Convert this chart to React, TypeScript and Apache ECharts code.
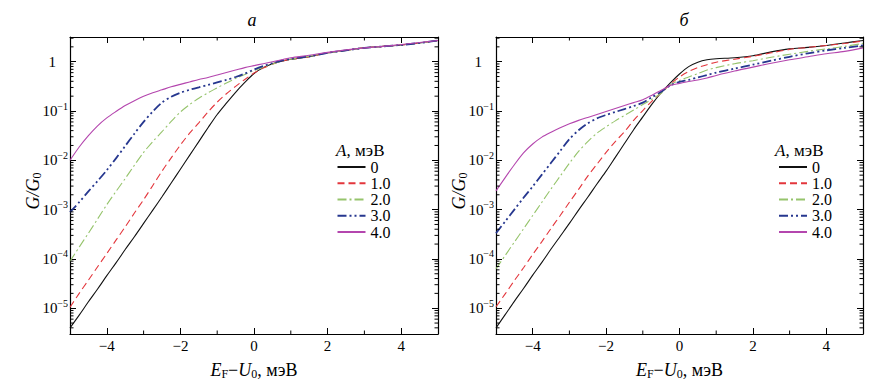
import React, { useEffect, useRef } from 'react';
import * as echarts from 'echarts';

// Energy E_F - U_0 (meV) sampling grid
const X = [-5, -4.75, -4.5, -4.25, -4, -3.75, -3.5, -3.25, -3, -2.75, -2.5, -2.25, -2, -1.75, -1.5, -1.25, -1, -0.75, -0.5, -0.25, 0, 0.25, 0.5, 0.75, 1, 1.5, 2, 2.5, 3, 3.5, 4, 4.5, 5];

// Panel "а": log10(G/G0), one array per A (meV)
const a_A0 = [-5.40, -5.14, -4.87, -4.61, -4.34, -4.08, -3.81, -3.55, -3.28, -3.01, -2.74, -2.46, -2.18, -1.90, -1.62, -1.34, -1.07, -0.84, -0.62, -0.42, -0.24, -0.12, -0.04, 0.01, 0.05, 0.10, 0.18, 0.23, 0.28, 0.31, 0.34, 0.38, 0.43];
const a_A1 = [-4.98, -4.70, -4.43, -4.16, -3.89, -3.62, -3.35, -3.07, -2.80, -2.51, -2.22, -1.95, -1.69, -1.45, -1.24, -1.02, -0.82, -0.65, -0.50, -0.36, -0.23, -0.13, -0.05, 0.01, 0.05, 0.10, 0.18, 0.23, 0.28, 0.31, 0.34, 0.38, 0.43];
const a_A2 = [-4.05, -3.76, -3.48, -3.19, -2.90, -2.63, -2.37, -2.10, -1.84, -1.62, -1.42, -1.21, -1.02, -0.87, -0.74, -0.63, -0.53, -0.43, -0.34, -0.26, -0.18, -0.11, -0.05, 0.01, 0.05, 0.11, 0.18, 0.23, 0.28, 0.31, 0.34, 0.38, 0.43];
const a_A3 = [-3.05, -2.85, -2.63, -2.42, -2.20, -1.96, -1.71, -1.46, -1.22, -1.01, -0.83, -0.71, -0.63, -0.57, -0.52, -0.47, -0.42, -0.37, -0.31, -0.24, -0.16, -0.09, -0.03, 0.02, 0.06, 0.11, 0.18, 0.23, 0.28, 0.31, 0.34, 0.38, 0.43];
const a_A4 = [-2.00, -1.73, -1.50, -1.30, -1.14, -1.01, -0.89, -0.79, -0.70, -0.63, -0.57, -0.51, -0.46, -0.41, -0.36, -0.32, -0.27, -0.22, -0.17, -0.12, -0.08, -0.04, 0.00, 0.04, 0.08, 0.13, 0.19, 0.24, 0.28, 0.31, 0.35, 0.39, 0.43];

// Panel "б": log10(G/G0)
const b_A0 = [-5.40, -5.13, -4.86, -4.60, -4.33, -4.07, -3.80, -3.54, -3.28, -3.01, -2.75, -2.48, -2.22, -1.94, -1.66, -1.38, -1.12, -0.86, -0.63, -0.43, -0.25, -0.10, -0.01, 0.04, 0.06, 0.08, 0.12, 0.20, 0.26, 0.29, 0.33, 0.38, 0.43];
const b_A1 = [-4.97, -4.71, -4.44, -4.18, -3.91, -3.65, -3.38, -3.12, -2.85, -2.59, -2.32, -2.08, -1.84, -1.62, -1.42, -1.19, -0.99, -0.80, -0.63, -0.46, -0.31, -0.20, -0.12, -0.06, -0.01, 0.05, 0.11, 0.18, 0.25, 0.29, 0.33, 0.37, 0.42];
const b_A2 = [-4.20, -3.93, -3.66, -3.39, -3.12, -2.85, -2.58, -2.32, -2.06, -1.82, -1.62, -1.45, -1.32, -1.20, -1.09, -0.98, -0.87, -0.76, -0.64, -0.47, -0.38, -0.31, -0.24, -0.17, -0.12, -0.04, 0.02, 0.09, 0.15, 0.21, 0.26, 0.31, 0.37];
const b_A3 = [-3.48, -3.24, -3.00, -2.76, -2.53, -2.29, -2.05, -1.81, -1.57, -1.39, -1.25, -1.15, -1.08, -1.02, -0.96, -0.90, -0.83, -0.72, -0.61, -0.48, -0.41, -0.37, -0.32, -0.27, -0.22, -0.14, -0.06, 0.02, 0.10, 0.17, 0.23, 0.28, 0.33];
const b_A4 = [-2.62, -2.35, -2.09, -1.85, -1.67, -1.53, -1.43, -1.34, -1.26, -1.19, -1.13, -1.07, -1.01, -0.95, -0.89, -0.83, -0.77, -0.68, -0.58, -0.48, -0.44, -0.40, -0.37, -0.33, -0.28, -0.19, -0.11, -0.03, 0.04, 0.10, 0.16, 0.21, 0.28];

const SERIES_NAMES = ['0', '1.0', '2.0', '3.0', '4.0'];
const PANEL_TITLES = ['а', 'б'];
const X_MINOR_TICKS = [-3, -1, 1, 3];
const DECADES = [-6, -5, -4, -3, -2, -1, 0];
const MANTISSAS = [2, 3, 4, 5, 6, 7, 8, 9];

const X_MIN = -5;
const X_MAX = 5;
const Y_MIN = -5.523;
const Y_MAX = 0.501;

const FONT = '"Liberation Serif", "Times New Roman", serif';
const COLORS = ['#111111', '#e3363c', '#96c46c', '#26378f', '#b446ae'];
const DASHES: any[] = ['solid', [7, 4], [9, 3, 2, 3], [9, 3, 2, 3, 2, 3], 'solid'];
const WIDTHS = [1.1, 1.1, 1.1, 1.8, 1.1];

const GRIDS = [
  { left: 70, top: 37, width: 368, height: 297 },
  { left: 496, top: 37, width: 367, height: 297 },
];

export default function App() {
  const ref = useRef<HTMLDivElement>(null);

  useEffect(() => {
    document.body.style.margin = '0';
    if (!ref.current) return;
    const chart = echarts.init(ref.current, null, { renderer: 'svg' });

    const yMinor: number[][] = [];
    DECADES.forEach((n) => MANTISSAS.forEach((k) => {
      const v = n + Math.log10(k);
      if (v > Y_MIN + 0.01 && v < Y_MAX - 0.01) yMinor.push([0, v]);
    }));
    const xMinor = X_MINOR_TICKS.map((v) => [v, 0]);

    const tickLine = (x1: number, y1: number, x2: number, y2: number) => ({
      type: 'line', shape: { x1, y1, x2, y2 }, style: { stroke: '#000', lineWidth: 1 },
    });
    const L = 3.5;
    const yMinorRender = (params: any, api: any) => {
      const cs = params.coordSys;
      const y = api.coord([0, api.value(1)])[1];
      return { type: 'group', children: [tickLine(cs.x, y, cs.x + L, y), tickLine(cs.x + cs.width - L, y, cs.x + cs.width, y)] };
    };
    const xMinorRender = (params: any, api: any) => {
      const cs = params.coordSys;
      const x = api.coord([api.value(0), 0])[0];
      return { type: 'group', children: [tickLine(x, cs.y, x, cs.y + L), tickLine(x, cs.y + cs.height - L, x, cs.y + cs.height)] };
    };

    const xLabel = (v: number) => {
      if (Math.abs(v) > 4.5 || Math.abs(v % 2) > 1e-9) return '';
      return v < 0 ? '−' + Math.abs(v) : String(v);
    };
    const yLabel = (v: number) => {
      const n = Math.round(v);
      if (Math.abs(v - n) > 1e-6) return '';
      if (n === 0) return '{one|1}';
      return '{b|10}{s|−' + Math.abs(n) + '}';
    };

    const axisLine = { onZero: false, lineStyle: { color: '#000', width: 1.2 } };
    const axisTick = { inside: true, length: 6, lineStyle: { color: '#000', width: 1 } };

    const xAxes: any[] = [];
    const yAxes: any[] = [];
    GRIDS.forEach((_, g) => {
      xAxes.push({
        type: 'value', gridIndex: g, position: 'bottom', min: X_MIN, max: X_MAX,
        axisLine, axisTick, splitLine: { show: false },
        axisLabel: { formatter: xLabel, margin: 4, fontFamily: FONT, fontSize: 15, color: '#000', showMinLabel: false, showMaxLabel: false },
        name: '{i|E}{sub|F}{n|−}{i|U}{sub|0}{n|, мэВ}',
        nameLocation: 'middle', nameGap: 26,
        nameTextStyle: {
          rich: {
            i: { fontFamily: FONT, fontStyle: 'italic', fontSize: 18, lineHeight: 20, color: '#000' },
            n: { fontFamily: FONT, fontSize: 18, lineHeight: 20, color: '#000' },
            sub: { fontFamily: FONT, fontSize: 12, lineHeight: 12, verticalAlign: 'bottom', color: '#000' },
          },
        },
      });
      xAxes.push({
        type: 'value', gridIndex: g, position: 'top', min: X_MIN, max: X_MAX,
        axisLine, axisTick, splitLine: { show: false }, axisLabel: { show: false },
      });
      yAxes.push({
        type: 'value', gridIndex: g, position: 'left', min: Y_MIN, max: Y_MAX,
        axisLine, axisTick, splitLine: { show: false },
        axisLabel: {
          formatter: yLabel, margin: 2, showMinLabel: false, showMaxLabel: false,
          rich: {
            b: { fontFamily: FONT, fontSize: 15, lineHeight: 20, color: '#000' },
            s: { fontFamily: FONT, fontSize: 10, lineHeight: 10, verticalAlign: 'top', color: '#000' },
            one: { fontFamily: FONT, fontSize: 15, lineHeight: 20, color: '#000', padding: [0, 12, 0, 0] },
          },
        },
      });
      yAxes.push({
        type: 'value', gridIndex: g, position: 'right', min: Y_MIN, max: Y_MAX,
        axisLine, axisTick, splitLine: { show: false }, axisLabel: { show: false },
      });
    });

    const panels = [
      [a_A0, a_A1, a_A2, a_A3, a_A4],
      [b_A0, b_A1, b_A2, b_A3, b_A4],
    ];
    const series: any[] = [];
    panels.forEach((arrs, g) => {
      arrs.forEach((arr, i) => {
        series.push({
          type: 'line', name: SERIES_NAMES[i], xAxisIndex: 2 * g, yAxisIndex: 2 * g,
          data: X.map((x, j) => [x, arr[j]]),
          showSymbol: false, symbol: 'none', smooth: 0.3,
          lineStyle: { color: COLORS[i], width: WIDTHS[i], type: DASHES[i] },
          itemStyle: { color: COLORS[i] },
          emphasis: { disabled: true }, silent: true,
        });
      });
      series.push({ type: 'custom', name: 'yminor' + g, xAxisIndex: 2 * g, yAxisIndex: 2 * g, data: yMinor, renderItem: yMinorRender, silent: true, z: 5 });
      series.push({ type: 'custom', name: 'xminor' + g, xAxisIndex: 2 * g, yAxisIndex: 2 * g, data: xMinor, renderItem: xMinorRender, silent: true, z: 5 });
    });

    const legendBase = {
      orient: 'vertical', top: 159, itemWidth: 28, itemHeight: 12, itemGap: 0.25, padding: 0,
      selectedMode: false, data: SERIES_NAMES,
      itemStyle: { opacity: 0, borderWidth: 0 },
      textStyle: { fontFamily: FONT, fontSize: 16, lineHeight: 16, color: '#000' },
    };

    const legendTitle = (x: number) => ({
      type: 'text', x, y: 150,
      style: {
        text: '{i|A}{n|, мэВ}', align: 'left', verticalAlign: 'middle', fill: '#000',
        rich: {
          i: { fontFamily: FONT, fontStyle: 'italic', fontSize: 17, lineHeight: 16, fill: '#000' },
          n: { fontFamily: FONT, fontSize: 17, lineHeight: 16, fill: '#000' },
        },
      },
    });
    const yName = (x: number) => ({
      type: 'text', x, y: 191, rotation: Math.PI / 2,
      style: {
        text: '{i|G/G}{s|0}', align: 'center', verticalAlign: 'middle', fill: '#000',
        rich: {
          i: { fontFamily: FONT, fontStyle: 'italic', fontSize: 18, lineHeight: 20, fill: '#000' },
          s: { fontFamily: FONT, fontSize: 12, lineHeight: 12, verticalAlign: 'bottom', fill: '#000' },
        },
      },
    });
    const title = (x: number, t: string) => ({
      type: 'text', x, y: 20,
      style: { text: t, font: 'italic 18px ' + FONT, fill: '#000', align: 'center', verticalAlign: 'middle' },
    });

    chart.setOption({
      animation: false,
      backgroundColor: '#fff',
      textStyle: { fontFamily: FONT },
      grid: GRIDS.map((g) => ({ ...g, containLabel: false })),
      xAxis: xAxes,
      yAxis: yAxes,
      legend: [
        { ...legendBase, left: 336.5 },
        { ...legendBase, left: 778 },
      ],
      graphic: [
        title(252, PANEL_TITLES[0]),
        title(684, PANEL_TITLES[1]),
        legendTitle(336),
        legendTitle(775),
        yName(33),
        yName(459),
      ],
      series,
    });

    return () => chart.dispose();
  }, []);

  return <div ref={ref} style={{ position: 'absolute', left: 0, top: 0, width: 888, height: 392 }} />;
}
